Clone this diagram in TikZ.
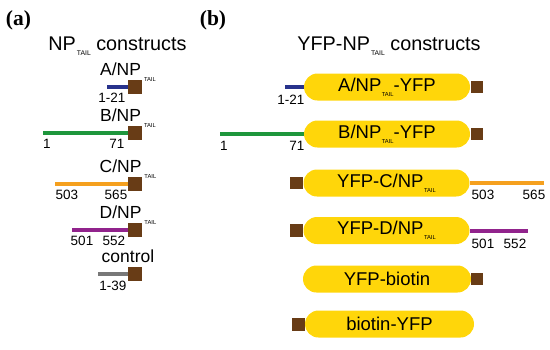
\documentclass[tikz,border=0pt]{standalone}
\usepackage{fontspec}
\setsansfont{Liberation Sans}
\newfontfamily\panelfont{Liberation Serif}
\definecolor{pillc}{RGB}{255,214,10}
\definecolor{brn}{RGB}{104,60,22}
\definecolor{cblue}{RGB}{40,50,140}
\definecolor{cgreen}{RGB}{30,150,60}
\definecolor{corange}{RGB}{245,160,30}
\definecolor{cpurple}{RGB}{145,35,140}
\definecolor{cgray}{RGB}{120,120,120}
\newcommand{\tailsub}[2]{\hspace{#1}\raisebox{-#2}{\fontsize{5.8}{6}\selectfont TAIL}}
\newcommand{\tailtitle}{\hspace{1pt}\raisebox{-5pt}{\fontsize{6.8}{7}\selectfont TAIL}}
\tikzset{
  sqa/.style={fill=brn, draw=none, minimum size=13.5pt, inner sep=0pt},
  sqb/.style={fill=brn, draw=none, minimum size=12.5pt, inner sep=0pt},
  pill/.style={fill=pillc, draw=none, rounded corners=13.5pt, minimum width=166pt, minimum height=27pt, inner sep=0pt, font=\sffamily\fontsize{18.5}{20}\selectfont},
  seg/.style={line width=4pt},
  lab/.style={font=\sffamily\fontsize{17.5}{19}\selectfont, anchor=base, inner sep=0pt},
  ttl/.style={font=\sffamily\fontsize{19.8}{21}\selectfont, anchor=base, inner sep=0pt},
  num/.style={font=\sffamily\fontsize{13.5}{15}\selectfont, anchor=base, inner sep=0pt},
  panel/.style={font=\panelfont\bfseries\fontsize{21.5}{22}\selectfont, anchor=base, inner sep=0pt}
}
\begin{document}
\begin{tikzpicture}[x=1pt, y=-1pt]
\useasboundingbox (0,0) rectangle (550,349);
% panel labels
\node[panel] (pa) at (18.5,25) {(a)};
\node[panel] (pb) at (213,25) {(b)};
% titles
\node[ttl] (ta) at (117.5,50) {NP\tailtitle{} constructs};
\node[ttl] (tb) at (389,50) {YFP-NP\tailtitle{} constructs};

% ---------- panel (a)
% A
\node[lab] (aA) at (128,75) {A/NP\tailsub{3pt}{6pt}};
\node[sqa] (sA) at (135,87) {};
\coordinate (lA) at (107,87);
\draw[seg, cblue] (lA) -- (sA.west);
\node[num] (nA) at (112,102.5) {1-21};
% B
\node[lab] (aB) at (128,121) {B/NP\tailsub{3pt}{6pt}};
\node[sqa] (sB) at (135,133) {};
\coordinate (lB) at (43,133);
\draw[seg, cgreen] (lB) -- (sB.west);
\node[num] (nB1) at (47,148.5) {1};
\node[num] (nB2) at (117,148.5) {71};
% C
\node[lab] (aC) at (128,172) {C/NP\tailsub{3pt}{6pt}};
\node[sqa] (sC) at (135,184) {};
\coordinate (lC) at (55,184);
\draw[seg, corange] (lC) -- (sC.west);
\node[num] (nC1) at (67,199.5) {503};
\node[num] (nC2) at (116,199.5) {565};
% D
\node[lab] (aD) at (128,218) {D/NP\tailsub{3pt}{6pt}};
\node[sqa] (sD) at (135,230) {};
\coordinate (lD) at (72,230);
\draw[seg, cpurple] (lD) -- (sD.west);
\node[num] (nD1) at (82,245.5) {501};
\node[num] (nD2) at (114,245.5) {552};
% control
\node[lab] (aE) at (128,262) {control};
\node[sqa] (sE) at (135,274) {};
\coordinate (lE) at (98,274);
\draw[seg, cgray] (lE) -- (sE.west);
\node[num] (nE) at (113,290) {1-39};

% ---------- panel (b)
% A
\node[pill] (pA) at (387,87) {A/NP\tailsub{0.5pt}{5pt}-YFP};
\node[sqb] (qA) at (477,87) {};
\coordinate (mA) at (285,87);
\draw[seg, cblue] (mA) -- (pA.west);
\node[num] (oA) at (291,104) {1-21};
% B
\node[pill] (pB) at (387,134) {B/NP\tailsub{0.5pt}{5pt}-YFP};
\node[sqb] (qB) at (477,134) {};
\coordinate (mB) at (220,134);
\draw[seg, cgreen] (mB) -- (pB.west);
\node[num] (oB1) at (224,150) {1};
\node[num] (oB2) at (297,150) {71};
% C
\node[pill] (pC) at (386.5,183) {YFP-C/NP\tailsub{0.5pt}{5pt}};
\node[sqb] (qC) at (296.5,183) {};
\coordinate (mC) at (544,183);
\draw[seg, corange] (pC.east) -- (mC);
\node[num] (oC1) at (483,199) {503};
\node[num] (oC2) at (534,199) {565};
% D
\node[pill] (pD) at (386.5,230.5) {YFP-D/NP\tailsub{0.5pt}{5pt}};
\node[sqb] (qD) at (296.5,230.5) {};
\coordinate (mD) at (528,230.5);
\draw[seg, cpurple] (pD.east) -- (mD);
\node[num] (oD1) at (483,248) {501};
\node[num] (oD2) at (515,248) {552};
% YFP-biotin
\node[pill, minimum width=168pt] (pE) at (387,279) {YFP-biotin};
\node[sqb] (qE) at (477,279) {};
% biotin-YFP
\node[pill, minimum width=169pt] (pF) at (389.5,324) {biotin-YFP};
\node[sqb] (qF) at (298.5,324.5) {};
\end{tikzpicture}
\end{document}
